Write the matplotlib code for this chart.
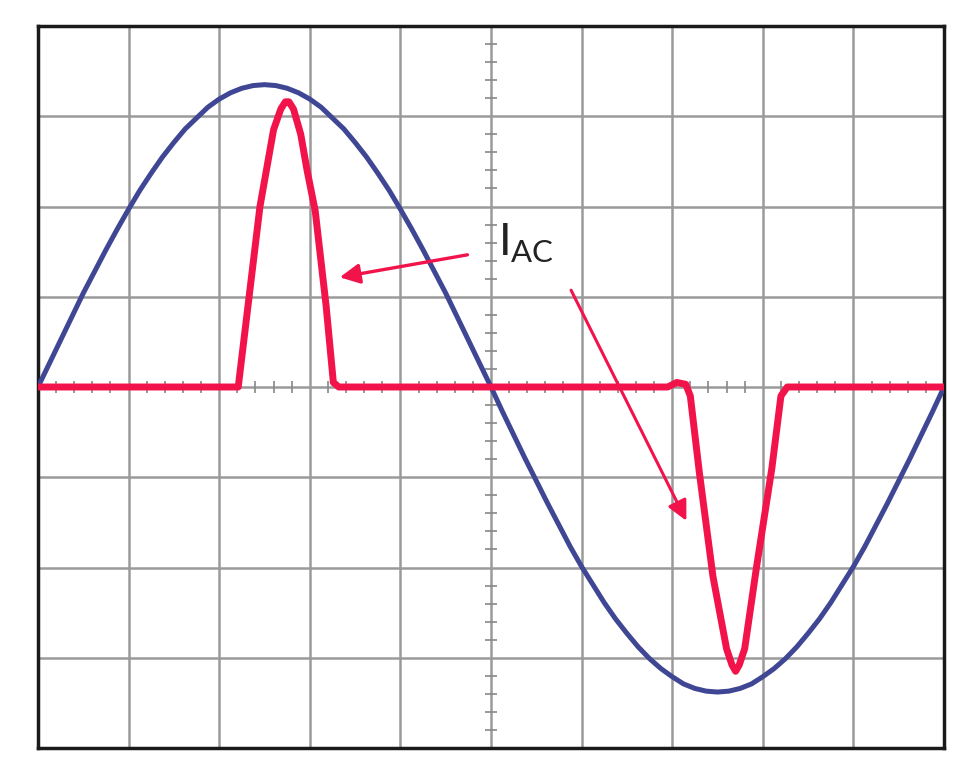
import matplotlib.pyplot as plt
from matplotlib.ticker import MultipleLocator

# supply voltage (blue), read every 1/8 division
v_x = [i * 0.125 for i in range(81)]
v_y = [0, 0.26, 0.52, 0.78, 1.04, 1.28, 1.52, 1.75, 1.97, 2.18, 2.37,
       2.55, 2.71, 2.86, 2.98, 3.10, 3.19, 3.26, 3.31, 3.34, 3.35,
       3.34, 3.31, 3.26, 3.19, 3.10, 2.98, 2.86, 2.71, 2.55, 2.37,
       2.18, 1.97, 1.75, 1.52, 1.28, 1.04, 0.78, 0.52, 0.26, 0,
       -0.27, -0.53, -0.79, -1.04, -1.29, -1.53, -1.77, -1.99, -2.19, -2.39,
       -2.57, -2.73, -2.88, -3.01, -3.12, -3.21, -3.29, -3.34, -3.37, -3.38,
       -3.37, -3.34, -3.29, -3.21, -3.12, -3.01, -2.88, -2.73, -2.57, -2.39,
       -2.19, -1.99, -1.77, -1.53, -1.29, -1.04, -0.79, -0.53, -0.27, 0]

# input current I_AC (red)
i_x = [0, 2.21, 2.3, 2.45, 2.6, 2.68, 2.73, 2.77, 2.82, 2.9, 2.97, 3.06, 3.18, 3.26, 3.32,
       6.95, 7.05, 7.15, 7.2, 7.3, 7.45, 7.6, 7.66, 7.7, 7.74, 7.8, 7.93, 8.1, 8.2, 8.27, 10]
i_y = [0, 0, 0.75, 2.0, 2.85, 3.08, 3.16, 3.16, 3.08, 2.8, 2.4, 1.95, 0.9, 0.05, 0,
       0, 0.05, 0.03, -0.1, -0.95, -2.1, -2.9, -3.08, -3.15, -3.08, -2.9, -2.0, -0.9, -0.1, 0, 0]

blue = '#3f4794'
red = '#f2134b'

fig = plt.figure(figsize=(9.75, 7.83), dpi=100)
ax = fig.add_axes([38 / 975, 35 / 783, 906 / 975, 722 / 783])
ax.set_xlim(0, 10)
ax.set_ylim(-4, 4)
ax.set_xticks(range(11))
ax.set_yticks(range(-4, 5))
ax.grid(True, color='#9a9a9a', lw=1.8)
for s in ax.spines.values():
    s.set_linewidth(2.5)
    s.set_color('#1a1a1a')

# centre cross with fine ticks
cx = fig.add_axes(ax.get_position(), sharex=ax, sharey=ax)
cx.patch.set_alpha(0)
cx.spines['left'].set_position(('data', 5))
cx.spines['bottom'].set_position(('data', 0))
for s in cx.spines.values():
    s.set_visible(False)
cx.xaxis.set_minor_locator(MultipleLocator(0.2))
cx.yaxis.set_minor_locator(MultipleLocator(0.2))
cx.tick_params(which='both', direction='inout', color='#888888',
               labelbottom=False, labelleft=False)
cx.tick_params(which='major', length=0)
cx.tick_params(which='minor', length=9, width=1.2)
ax.tick_params(which='both', length=0, labelbottom=False, labelleft=False)

cx.plot(v_x, v_y, color=blue, lw=3.6, solid_capstyle='round', zorder=3)
cx.plot(i_x, i_y, color=red, lw=5, solid_joinstyle='round', zorder=4)

cx.annotate('', xy=(3.3, 1.21), xytext=(4.77, 1.47),
            arrowprops=dict(arrowstyle='-|>', color=red, lw=2.4,
                            mutation_scale=30))
cx.annotate('', xy=(7.17, -1.51), xytext=(5.87, 1.1),
            arrowprops=dict(arrowstyle='-|>', color=red, lw=2.2,
                            mutation_scale=30))
cx.text(5.08, 1.35, r'I$_{\mathregular{AC}}$', fontsize=32, color='#222222',
        family='Lato', ha='left', va='bottom')

fig.savefig('out.png', dpi=100)
